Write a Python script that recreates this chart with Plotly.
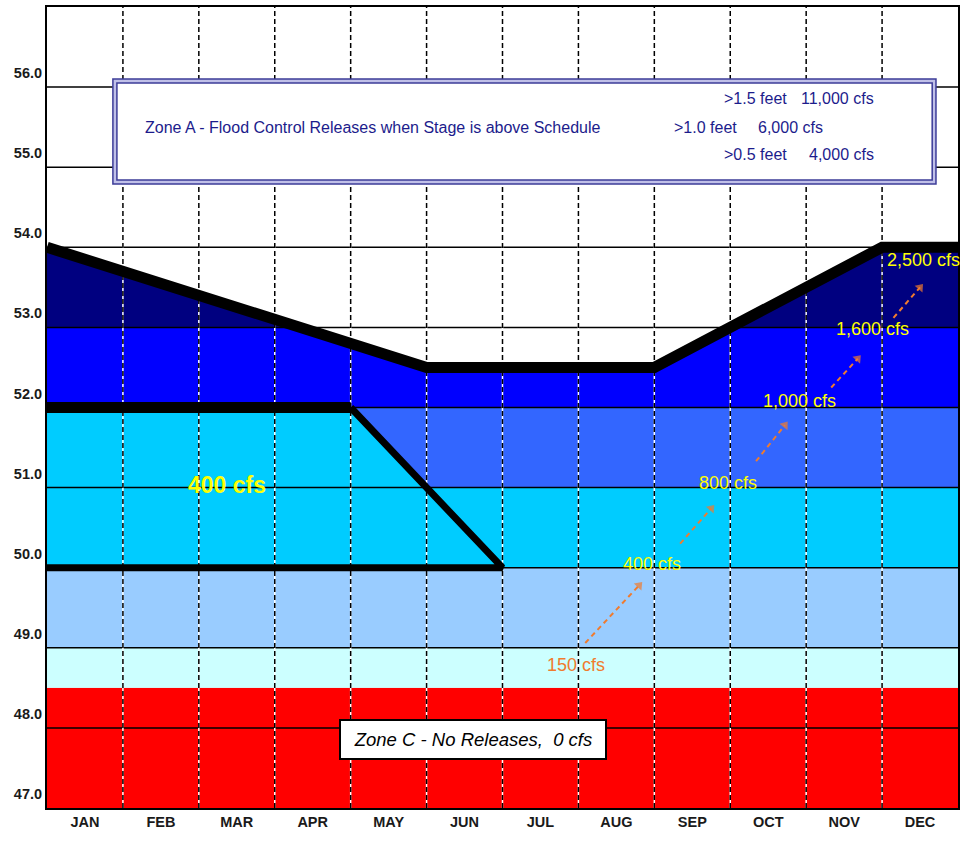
import plotly.graph_objects as go

# ---------------- data ----------------
months = ["JAN", "FEB", "MAR", "APR", "MAY", "JUN", "JUL", "AUG", "SEP", "OCT", "NOV", "DEC"]
month_centers = [i + 0.5 for i in range(12)]
month_bounds = list(range(1, 12))

y_ticks = [47, 48, 49, 50, 51, 52, 53, 54, 55, 56]
y_tick_text = ["47.0", "48.0", "49.0", "50.0", "51.0", "52.0", "53.0", "54.0", "55.0", "56.0"]
y_grid = [48, 49, 50, 51, 52, 53, 54, 55, 56]

# release zones (stage bands, feet)
band_lo = [47.0, 48.5, 49.0, 50.0, 51.0, 52.0, 53.0]
band_hi = [48.5, 49.0, 50.0, 51.0, 52.0, 53.0, 54.0]
band_colors = ["#FF0000", "#CCFFFF", "#99CCFF", "#00CCFF", "#3366FF", "#0000FF", "#000080"]

# 400 cfs zone (trapezoid)
trap_x = [0, 4, 6, 0]
trap_y = [52.0, 52.0, 50.0, 50.0]

# regulation schedule (top of zone B)
sched_x = [0, 5, 8, 11, 12]
sched_y = [54.0, 52.5, 52.5, 54.0, 54.0]

# release labels on the right
rel_text = ["150 cfs", "400 cfs", "800 cfs", "1,000 cfs", "1,600 cfs", "2,500 cfs"]
rel_x = [6.97, 7.97, 8.97, 9.91, 10.88, 11.54]
rel_y = [48.79, 50.05, 51.06, 52.08, 52.98, 53.84]
rel_colors = ["#F07B2E", "#FFFF00", "#FFFF00", "#FFFF00", "#FFFF00", "#FFFF00"]

# dashed arrows between the labels (start -> tip)
arr_x0 = [7.09, 8.34, 9.34, 10.33, 11.15]
arr_y0 = [49.06, 50.30, 51.33, 52.25, 53.12]
arr_x1 = [7.80, 8.75, 9.72, 10.68, 11.50]
arr_y1 = [49.78, 50.74, 51.78, 52.61, 53.50]

Y_MIN, Y_MAX = 47, 57
X_MIN, X_MAX = 0, 12

FONT = "Liberation Sans, Arial, sans-serif"
BOX_BLUE = "#1C1C8C"
ORANGE = "#F07B2E"

fig = go.Figure()

# zone bands
for lo, hi, c in zip(band_lo, band_hi, band_colors):
    fig.add_trace(go.Scatter(
        x=[X_MIN, X_MAX, X_MAX, X_MIN, X_MIN], y=[lo, lo, hi, hi, lo],
        mode="lines", fill="toself", fillcolor=c, line=dict(width=0, color=c),
        hoverinfo="skip", showlegend=False))

# 400 cfs zone
fig.add_trace(go.Scatter(
    x=trap_x + [trap_x[0]], y=trap_y + [trap_y[0]],
    mode="lines", fill="toself", fillcolor="#00CCFF", line=dict(width=0, color="#00CCFF"),
    hoverinfo="skip", showlegend=False))

# white area above schedule
fig.add_trace(go.Scatter(
    x=sched_x + [sched_x[-1], sched_x[0], sched_x[0]],
    y=sched_y + [Y_MAX, Y_MAX, sched_y[0]],
    mode="lines", fill="toself", fillcolor="#FFFFFF", line=dict(width=0, color="#FFFFFF"),
    hoverinfo="skip", showlegend=False))

# horizontal grid lines
gx, gy = [], []
for v in y_grid:
    gx += [X_MIN, X_MAX, None]
    gy += [v, v, None]
fig.add_trace(go.Scatter(x=gx, y=gy, mode="lines", line=dict(color="#000000", width=1.5),
                         hoverinfo="skip", showlegend=False))

# vertical dashed grid lines
vx, vy = [], []
for m in month_bounds:
    vx += [m, m, None]
    vy += [Y_MIN, Y_MAX, None]
fig.add_trace(go.Scatter(x=vx, y=vy, mode="lines", line=dict(color="#FFFFFF", width=1.5),
                         hoverinfo="skip", showlegend=False))
fig.add_trace(go.Scatter(x=vx, y=vy, mode="lines", line=dict(color="#000000", width=1.5, dash="5px,3px"),
                         hoverinfo="skip", showlegend=False))

# trapezoid outline
fig.add_trace(go.Scatter(x=trap_x[0:2], y=trap_y[0:2], mode="lines",
                         line=dict(color="#000000", width=11), hoverinfo="skip", showlegend=False))
fig.add_trace(go.Scatter(x=trap_x[1:4], y=trap_y[1:4], mode="lines",
                         line=dict(color="#000000", width=7), hoverinfo="skip", showlegend=False))

# schedule line
fig.add_trace(go.Scatter(x=sched_x, y=sched_y, mode="lines",
                         line=dict(color="#000000", width=11), hoverinfo="skip", showlegend=False))

# dashed arrows
for x0, y0, x1, y1 in zip(arr_x0, arr_y0, arr_x1, arr_y1):
    fig.add_trace(go.Scatter(
        x=[x0, x1], y=[y0, y1], mode="lines+markers",
        line=dict(color=ORANGE, width=2, dash="5px,4px"),
        marker=dict(symbol=["circle", "triangle-up"], size=[0.1, 9], color=ORANGE,
                    angleref="previous", line=dict(width=0)),
        hoverinfo="skip", showlegend=False))

annotations = []
# big 400 cfs
annotations.append(dict(x=2.37, y=51.03, text="<b>400 cfs</b>", showarrow=False,
                        font=dict(family=FONT, size=23, color="#FFFF00")))
for t, x, y, c in zip(rel_text, rel_x, rel_y, rel_colors):
    annotations.append(dict(x=x, y=y, text=t, showarrow=False,
                            font=dict(family=FONT, size=18, color=c)))

# Zone A legend box texts
annotations.append(dict(x=1.263, y=55.50, xanchor="left", showarrow=False,
                        text="Zone A - Flood Control Releases when Stage is above Schedule",
                        font=dict(family=FONT, size=16, color=BOX_BLUE)))
feet_text = [">1.5 feet", ">1.0 feet", ">0.5 feet"]
feet_x = [8.895, 8.237, 8.895]
cfs_text = ["11,000 cfs", "6,000 cfs", "4,000 cfs"]
cfs_x = [10.92, 10.25, 10.92]
line_y = [55.86, 55.50, 55.16]
for ft, fx, ct, cx, ly in zip(feet_text, feet_x, cfs_text, cfs_x, line_y):
    annotations.append(dict(x=fx, y=ly, xanchor="left", text=ft, showarrow=False,
                            font=dict(family=FONT, size=16, color=BOX_BLUE)))
    annotations.append(dict(x=cx, y=ly, xanchor="right", text=ct, showarrow=False,
                            font=dict(family=FONT, size=16, color=BOX_BLUE)))

# Zone C box
annotations.append(dict(x=5.605, y=47.85, text="<i>Zone C - No Releases,  0 cfs</i>", showarrow=False,
                        font=dict(family=FONT, size=18.5, color="#000000"),
                        bgcolor="#FFFFFF", bordercolor="#000000", borderwidth=2, borderpad=1,
                        width=262, height=35))

shapes = [
    dict(type="rect", xref="x", yref="y", x0=0.868, x1=11.71, y0=54.79, y1=56.10,
         line=dict(color="#3C3C98", width=1.5), fillcolor="#C0C0E8", layer="above"),
    dict(type="rect", xref="x", yref="y", x0=0.921, x1=11.66, y0=54.84, y1=56.05,
         line=dict(color="#3C3C98", width=1.5), fillcolor="#FFFFFF", layer="above"),
]

fig.update_layout(
    width=960, height=842,
    margin=dict(l=47, r=2, t=7, b=34, autoexpand=False),
    plot_bgcolor="#FFFFFF", paper_bgcolor="#FFFFFF",
    showlegend=False,
    annotations=annotations,
    shapes=shapes,
    xaxis=dict(range=[X_MIN, X_MAX], tickvals=month_centers, ticktext=months, showgrid=False,
               zeroline=False, ticks="", showline=True, linecolor="#000000", linewidth=2, mirror=True,
               automargin=False,
               tickfont=dict(family=FONT, size=14.5, color="#1A1A1A", weight="bold"), fixedrange=True),
    yaxis=dict(range=[Y_MIN, Y_MAX], tickvals=y_ticks, ticktext=y_tick_text, showgrid=False,
               zeroline=False, ticks="", showline=True, linecolor="#000000", linewidth=2, mirror=True,
               automargin=False, ticklabelshift=-14,
               tickfont=dict(family=FONT, size=14.5, color="#1A1A1A", weight="bold"), fixedrange=True),
)

fig.write_html("out.html", config={"displayModeBar": False},
               post_script="document.body.style.margin='0';document.body.style.overflow='hidden';")
